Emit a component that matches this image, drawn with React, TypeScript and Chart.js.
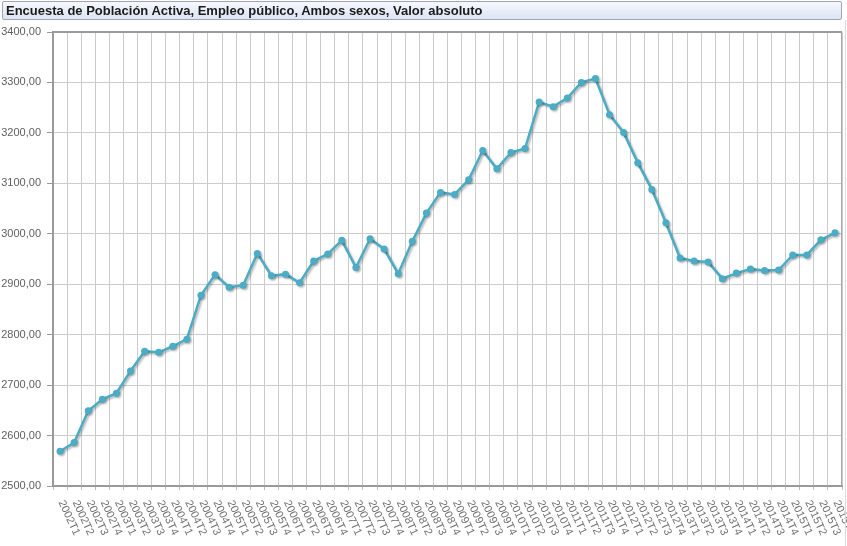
import React, { useEffect, useRef } from "react";
import { Chart, registerables } from "chart.js";

Chart.register(...registerables);

const TITLE = "Encuesta de Población Activa, Empleo público, Ambos sexos, Valor absoluto";

const periods = [
  "2002T1", "2002T2", "2002T3", "2002T4",
  "2003T1", "2003T2", "2003T3", "2003T4",
  "2004T1", "2004T2", "2004T3", "2004T4",
  "2005T1", "2005T2", "2005T3", "2005T4",
  "2006T1", "2006T2", "2006T3", "2006T4",
  "2007T1", "2007T2", "2007T3", "2007T4",
  "2008T1", "2008T2", "2008T3", "2008T4",
  "2009T1", "2009T2", "2009T3", "2009T4",
  "2010T1", "2010T2", "2010T3", "2010T4",
  "2011T1", "2011T2", "2011T3", "2011T4",
  "2012T1", "2012T2", "2012T3", "2012T4",
  "2013T1", "2013T2", "2013T3", "2013T4",
  "2014T1", "2014T2", "2014T3", "2014T4",
  "2015T1", "2015T2", "2015T3", "2015T4",
];

const empleoPublico = [
  2569, 2586, 2649, 2672,
  2684, 2728, 2767, 2765,
  2777, 2791, 2878, 2919,
  2894, 2898, 2961, 2917,
  2920, 2903, 2946, 2960,
  2987, 2933, 2990, 2970,
  2921, 2985, 3041, 3082,
  3078, 3107, 3165, 3129,
  3161, 3169, 3261, 3252,
  3269, 3300, 3308, 3236,
  3201, 3141, 3088, 3022,
  2952, 2946, 2944, 2911,
  2922, 2930, 2927, 2928,
  2958, 2958, 2988, 3002,
];

const yMin = 2500;
const yMax = 3400;
const yStep = 100;

const FONT = '"Liberation Sans", Arial, sans-serif';
const LINE_COLOR = "#4aacc5";

export default function App() {
  const ref = useRef<HTMLCanvasElement>(null);

  useEffect(() => {
    const canvas = ref.current;
    if (!canvas) return;

    const shadowPlugin = {
      id: "shadow",
      beforeDatasetsDraw(chart: any) {
        const c = chart.ctx;
        c.save();
        c.shadowColor = "rgba(0,0,0,0.28)";
        c.shadowOffsetX = 1.5;
        c.shadowOffsetY = 1.5;
        c.shadowBlur = 2;
      },
      afterDatasetsDraw(chart: any) {
        chart.ctx.restore();
      },
    };

    const framePlugin = {
      id: "frame",
      afterDraw(chart: any) {
        const { ctx, chartArea } = chart;
        ctx.save();
        ctx.strokeStyle = "#9a9a9a";
        ctx.lineWidth = 2;
        ctx.beginPath();
        ctx.moveTo(chartArea.left, chartArea.top);
        ctx.lineTo(chartArea.right, chartArea.top);
        ctx.stroke();
        ctx.lineWidth = 1;
        ctx.strokeStyle = "#a8a8a8";
        ctx.beginPath();
        ctx.moveTo(chartArea.right - 0.5, chartArea.top);
        ctx.lineTo(chartArea.right - 0.5, chartArea.bottom);
        ctx.stroke();
        ctx.restore();
      },
    };

    const xLabelPlugin = {
      id: "xlabels",
      afterDraw(chart: any) {
        const { ctx } = chart;
        const xs = chart.scales.x;
        ctx.save();
        ctx.font = "11px " + FONT;
        ctx.fillStyle = "#707070";
        ctx.textAlign = "left";
        ctx.textBaseline = "middle";
        const angle = (65 * Math.PI) / 180;
        periods.forEach((p, i) => {
          const x = xs.getPixelForValue(i);
          ctx.save();
          ctx.translate(x + 1, xs.top + 15);
          ctx.rotate(angle);
          ctx.fillText(p, 0, 0);
          ctx.restore();
        });
        ctx.restore();
      },
    };

    const chart = new Chart(canvas, {
      type: "line",
      data: {
        labels: periods,
        datasets: [
          {
            data: empleoPublico,
            borderColor: LINE_COLOR,
            backgroundColor: LINE_COLOR,
            borderWidth: 2.5,
            pointRadius: 3.5,
            pointBorderWidth: 0,
            pointBackgroundColor: LINE_COLOR,
            tension: 0,
            fill: false,
          },
        ],
      },
      options: {
        responsive: false,
        animation: false,
        devicePixelRatio: 1,
        layout: { padding: { top: 32, right: 5, left: 0, bottom: 0 } },
        plugins: {
          legend: { display: false },
          title: { display: false },
          tooltip: { enabled: false },
        },
        scales: {
          x: {
            type: "category",
            offset: true,
            grid: {
              offset: true,
              color: "#cccccc",
              lineWidth: 1,
              drawTicks: true,
              tickLength: 4,
              tickColor: "#bbbbbb",
            },
            border: { display: true, color: "#9a9a9a", width: 2 },
            ticks: { display: false },
            afterFit(axis: any) {
              axis.height = 60;
            },
          },
          y: {
            min: yMin,
            max: yMax,
            border: { display: true, color: "#9a9a9a", width: 2 },
            grid: {
              color: "#cccccc",
              lineWidth: 1,
              drawTicks: true,
              tickLength: 6,
              tickColor: "#9a9a9a",
            },
            ticks: {
              stepSize: yStep,
              padding: 6,
              color: "#606060",
              font: { family: FONT, size: 11 },
              callback: (v: any) => Number(v).toFixed(2).replace(".", ","),
            },
            afterFit(axis: any) {
              axis.width = 53;
            },
          },
        },
      },
      plugins: [shadowPlugin, framePlugin, xLabelPlugin],
    });

    return () => chart.destroy();
  }, []);

  return (
    <div style={{ position: "absolute", left: 0, top: 0, width: 847, height: 546, background: "#fff" }}>
      <canvas ref={ref} width={847} height={546} style={{ position: "absolute", left: 0, top: 0, display: "block" }} />
      <div
        style={{
          position: "absolute",
          left: 2,
          top: 1,
          width: 840,
          height: 19,
          boxSizing: "border-box",
          border: "1px solid #9ea6b6",
          borderRadius: 2,
          background: "linear-gradient(#f6f8fd, #dce4f4)",
          font: "bold 13px " + FONT,
          lineHeight: "17px",
          color: "#1b1b1b",
          paddingLeft: 3,
          whiteSpace: "nowrap",
        }}
      >
        {TITLE}
      </div>
      <div style={{ position: "absolute", left: 845, top: 20, width: 1, height: 526, background: "#dcdcdc" }} />
    </div>
  );
}
